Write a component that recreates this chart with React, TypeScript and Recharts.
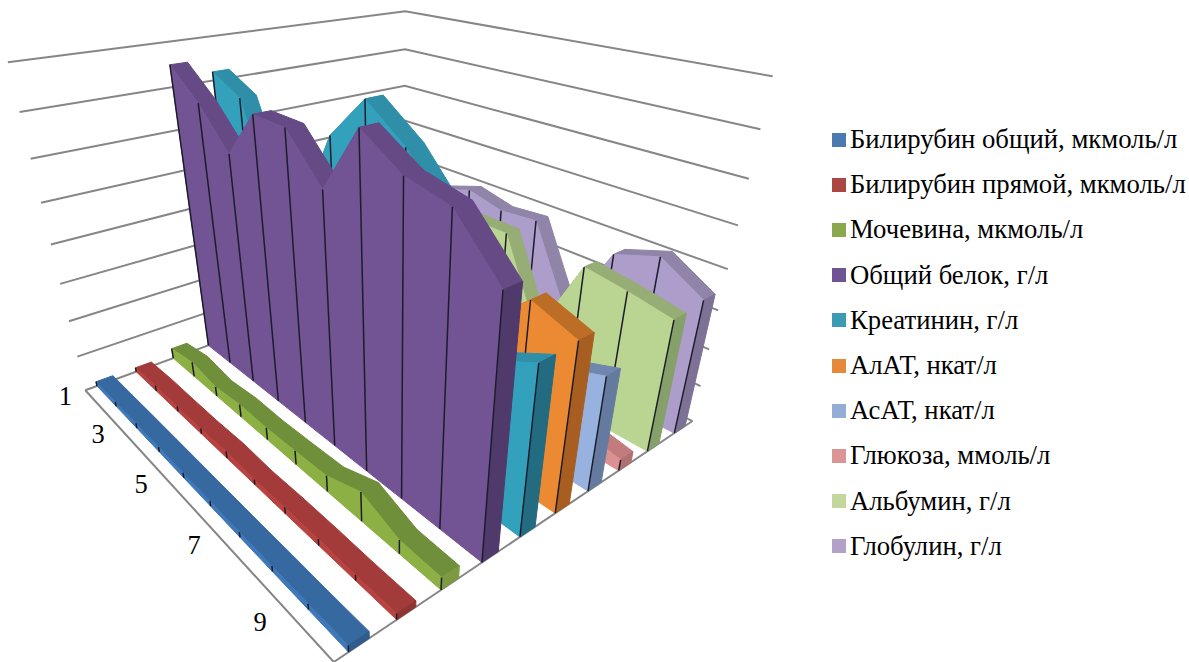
import { Legend, Scatter, ScatterChart, XAxis, YAxis } from "recharts";

const WIDTH = 1189;
const HEIGHT = 662;

const seriesNames = [
  "Билирубин общий, мкмоль/л",
  "Билирубин прямой, мкмоль/л",
  "Мочевина, мкмоль/л",
  "Общий белок, г/л",
  "Креатинин, г/л",
  "АлАТ, нкат/л",
  "АсАТ, нкат/л",
  "Глюкоза, ммоль/л",
  "Альбумин, г/л",
  "Глобулин, г/л",
];

const bilirubinTotal = [1.3, 1.3, 1.4, 1.4, 1.4, 1.4, 1.4, 1.5, 1.5, 1.7];
const bilirubinDirect = [1.2, 1.6, 1.5, 1.5, 1.9, 1.4, 1.7, 1.7, 1.5, 1.6];
const urea = [3, 4.3, 2.7, 3.6, 3.4, 3.8, 4.3, 7.7, 3.6, 3.2];
const totalProtein = [75, 68.5, 59.7, 70.7, 70.5, 61.2, 75.5, 70, 68, 58];
const creatinine = [72, 68, 46, 48, 67, 76.5, 70, 60, 35.5, 40.5];
const alat = [28, 26, 24, 25, 26, 28, 30, 35, 44.5, 41];
const asat = [28, 28, 27, 28, 28, 30, 31, 33, 25.5, 29];
const glucose = [5, 5, 5, 5, 5, 5, 5, 5, 5, 3];
const albumin = [37, 37, 37, 38, 38, 38, 16, 37.5, 36, 34];
const globulin = [37, 37, 37, 40, 37.7, 38.5, 18, 37.5, 41, 35];

const seriesValues = [
  bilirubinTotal,
  bilirubinDirect,
  urea,
  totalProtein,
  creatinine,
  alat,
  asat,
  glucose,
  albumin,
  globulin,
];

const categoryLabels = ["1", "3", "5", "7", "9"];
const categoryLabelIndexes = [0, 2, 4, 6, 8];
const categoryLabelNudges = [0.005, -0.025, -0.03, -0.03, -0.025];
const gridValues = [0, 10, 20, 30, 40, 50, 60, 70, 80];
const VALUE_MAX = 80;

const legendColors = ["#4a7ab0", "#ab4643", "#8aa84d", "#6f5392", "#3b9bb5", "#e68a3a", "#94add6", "#d99694", "#c3d69b", "#b2a2c7"];
const sideColors = ["#3f78b8", "#b8423f", "#8cb044", "#725494", "#33a0bc", "#ec8a33", "#98b2df", "#dd9091", "#bad592", "#ad9dca"];
const topColors = ["#36699f", "#a23b39", "#6f8f3a", "#664a86", "#2f8ea8", "#bc6e26", "#6f86ae", "#c27c7d", "#96ad76", "#9084a9"];
const endColors = ["#2f5c8c", "#8e3432", "#7d9a42", "#4f3a6b", "#226b80", "#a85e20", "#647b9f", "#b06f70", "#86a069", "#7d7296"];

// corners of the plot box as [depth along categories, depth along series, height] -> screen
const boxCorners = [
  [0, 0, 0, 85, 392],
  [1, 0, 0, 334, 663],
  [0, 1, 0, 404, 274],
  [1, 1, 0, 692, 423],
  [0, 0, 1, 8, 62],
  [0, 1, 1, 405, 12],
  [1, 1, 1, 773, 76],
];

// least squares fit of a 3x4 projective matrix, last element fixed to 1
function fitProjection() {
  const rows: number[][] = [];
  const rhs: number[] = [];
  for (const [u, v, w, x, y] of boxCorners) {
    rows.push([u, v, w, 1, 0, 0, 0, 0, -x * u, -x * v, -x * w]);
    rhs.push(x);
    rows.push([0, 0, 0, 0, u, v, w, 1, -y * u, -y * v, -y * w]);
    rhs.push(y);
  }
  const n = 11;
  const m: number[][] = [];
  for (let i = 0; i < n; i++) {
    const row = new Array(n + 1).fill(0);
    for (let j = 0; j < n; j++) {
      rows.forEach((r) => (row[j] += r[i] * r[j]));
    }
    rows.forEach((r, k) => (row[n] += r[i] * rhs[k]));
    m.push(row);
  }
  for (let i = 0; i < n; i++) {
    let pivot = i;
    for (let k = i + 1; k < n; k++) {
      if (Math.abs(m[k][i]) > Math.abs(m[pivot][i])) pivot = k;
    }
    [m[i], m[pivot]] = [m[pivot], m[i]];
    for (let k = 0; k < n; k++) {
      if (k === i) continue;
      const f = m[k][i] / m[i][i];
      for (let j = i; j <= n; j++) m[k][j] -= f * m[i][j];
    }
  }
  return m.map((row, i) => row[n] / row[i]);
}

const P = fitProjection();

function project(u: number, v: number, w: number) {
  const d = P[8] * u + P[9] * v + P[10] * w + 1;
  return {
    px: (P[0] * u + P[1] * v + P[2] * w + P[3]) / d,
    py: (P[4] * u + P[5] * v + P[6] * w + P[7]) / d,
  };
}

const catPos = (i: number) => i / 9;
const height = (value: number) => value / VALUE_MAX;

const noDot = () => <g />;

function face(key: string, points: { px: number; py: number }[], fill: string) {
  return (
    <Scatter
      key={key}
      data={[...points, points[0]]}
      line={{ fill, stroke: fill, strokeWidth: 1 }}
      shape={noDot}
      isAnimationActive={false}
      legendType="none"
    />
  );
}

function stroke(key: string, points: { px: number; py: number }[], color: string, width: number) {
  return (
    <Scatter
      key={key}
      data={points}
      line={{ stroke: color, strokeWidth: width, fill: "none" }}
      shape={noDot}
      isAnimationActive={false}
      legendType="none"
    />
  );
}

// walls and floor behind the ribbons
function boxLines() {
  const lines = gridValues.map((g) =>
    stroke(
      `grid-${g}`,
      [project(0, 0, height(g)), project(0, 1, height(g)), project(1, 1, height(g))],
      "#868686",
      2
    )
  );
  lines.push(stroke("floor", [project(0, 0, 0), project(1, 0, 0), project(1, 1, 0)], "#868686", 2));
  return lines;
}

// one ribbon: top panels, end cap, then the side facing the viewer with its tick lines
function ribbon(index: number) {
  const values = seriesValues[index];
  const v0 = (index + 0.29) / 10;
  const v1 = (index + 0.71) / 10;
  const shapes = [];
  for (let i = 0; i < values.length - 1; i++) {
    shapes.push(
      face(
        `top-${index}-${i}`,
        [
          project(catPos(i), v0, height(values[i])),
          project(catPos(i), v1, height(values[i])),
          project(catPos(i + 1), v1, height(values[i + 1])),
          project(catPos(i + 1), v0, height(values[i + 1])),
        ],
        topColors[index]
      )
    );
  }
  const last = values.length - 1;
  shapes.push(
    face(
      `end-${index}`,
      [
        project(1, v0, 0),
        project(1, v1, 0),
        project(1, v1, height(values[last])),
        project(1, v0, height(values[last])),
      ],
      endColors[index]
    )
  );
  shapes.push(
    face(
      `side-${index}`,
      [
        project(0, v0, 0),
        ...values.map((val, i) => project(catPos(i), v0, height(val))),
        project(1, v0, 0),
      ],
      sideColors[index]
    )
  );
  values.forEach((val, i) => {
    shapes.push(
      stroke(
        `tick-${index}-${i}`,
        [project(catPos(i), v0, 0), project(catPos(i), v0, height(val))],
        "#1c1c2a",
        1.5
      )
    );
  });
  return shapes;
}

const labelPoints = categoryLabels.map((label, i) => ({
  ...project(catPos(categoryLabelIndexes[i]) + categoryLabelNudges[i], -0.05, 0),
  label,
}));

const CategoryLabel = (props: any) => (
  <text
    x={props.cx}
    y={props.cy}
    textAnchor="middle"
    dominantBaseline="middle"
    fontFamily="Liberation Serif"
    fontSize={26.5}
    fill="#000"
  >
    {props.payload.label}
  </text>
);

const SeriesLegend = () => (
  <div style={{ fontFamily: "Liberation Serif", fontSize: 26.7, color: "#000" }}>
    {seriesNames.map((name, i) => (
      <div key={name} style={{ display: "flex", alignItems: "center", height: 45.2, whiteSpace: "nowrap" }}>
        <span style={{ width: 14, height: 14, marginRight: 4, background: legendColors[i] }} />
        {name}
      </div>
    ))}
  </div>
);

export default function App() {
  return (
    <div style={{ position: "absolute", left: 0, top: 0, width: WIDTH, height: HEIGHT, overflow: "hidden", background: "#fff" }}>
      <ScatterChart width={WIDTH} height={HEIGHT} margin={{ top: 0, right: 0, bottom: 0, left: 0 }}>
        <XAxis type="number" dataKey="px" domain={[0, WIDTH]} hide />
        <YAxis type="number" dataKey="py" domain={[0, HEIGHT]} reversed hide />
        {boxLines()}
        {[9, 8, 7, 6, 5, 4, 3, 2, 1, 0].map((index) => ribbon(index))}
        <Scatter data={labelPoints} shape={CategoryLabel} isAnimationActive={false} legendType="none" />
        <Legend
          layout="horizontal"
          verticalAlign="middle"
          align="center"
          content={SeriesLegend}
          wrapperStyle={{ left: 832, top: 117, width: 357, bottom: "auto" }}
        />
      </ScatterChart>
    </div>
  );
}
